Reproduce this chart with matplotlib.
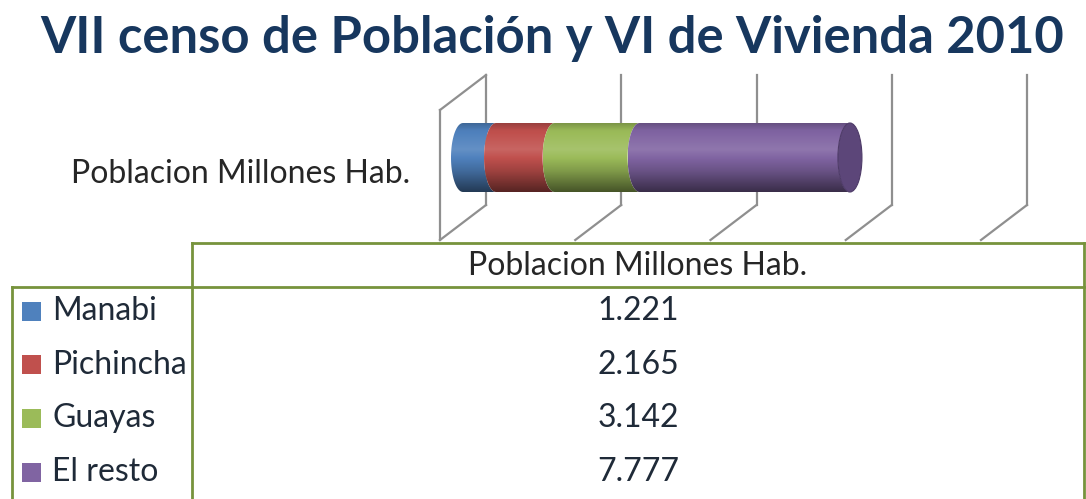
import numpy as np
import matplotlib
matplotlib.use("Agg")
import matplotlib.pyplot as plt
from matplotlib.patches import Polygon, Ellipse

titulo = "VII censo de Población y VI de Vivienda 2010"
serie = "Poblacion Millones Hab."
regiones = ["Manabi", "Pichincha", "Guayas", "El resto"]
poblacion = [1.221, 2.165, 3.142, 7.777]
etiquetas = ["1.221", "2.165", "3.142", "7.777"]
colores = ["#4F81BD", "#C0504D", "#9BBB59", "#8064A2"]
ticks = [0, 5, 10, 15, 20]

plt.rcParams['font.family'] = ['Lato', 'DejaVu Sans']

W, H = 1086, 499
fig = plt.figure(figsize=(W / 100, H / 100), dpi=100)

# ejes en pixeles para textos y tabla
ax = fig.add_axes([0, 0, 1, 1])
ax.set_xlim(0, W)
ax.set_ylim(H, 0)
ax.axis("off")

# ejes del grafico: x en millones, y en pixeles
ppu = 27.05          # px por millon
x0 = 463             # posicion del cero (profundidad media)
axb = fig.add_axes([0, 0, 1, 1])
axb.set_xlim(-x0 / ppu, (W - x0) / ppu)
axb.set_ylim(H, 0)
axb.axis("off")

dx = 23 / ppu        # desplazamiento de profundidad
gris = "#8f8f8f"
for v in ticks:
    axb.plot([v + dx, v + dx], [75, 205], color=gris, lw=1.6, zorder=1)
    axb.plot([v + dx, v - dx], [205, 240], color=gris, lw=1.6, zorder=1)
axb.plot([-dx, -dx], [110, 240], color=gris, lw=1.6, zorder=1)
axb.plot([-dx, dx], [110, 75], color=gris, lw=1.6, zorder=1)

# cilindro apilado
yc, hh = 157.5, 34.5
hw = 12 / ppu


def degradado(base, n=120):
    rgb = np.array(matplotlib.colors.to_rgb(base))
    t = np.linspace(0, 1, n)
    f = np.interp(t, [0, 0.1, 0.38, 0.7, 1], [0.8, 0.98, 1.12, 0.82, 0.45])
    out = np.zeros((n, 1, 3))
    for i, fi in enumerate(f):
        if fi < 1:
            out[i, 0] = rgb * fi
        else:
            out[i, 0] = rgb + (1 - rgb) * (fi - 1)
    return np.clip(out, 0, 1)


def media_elipse(xc, desde, hasta, n=40):
    t = np.linspace(desde, hasta, n)
    return np.column_stack([xc - hw * np.cos(t), yc + hh * np.sin(t)])


acum = np.concatenate([[0], np.cumsum(poblacion)])
for i, c in enumerate(colores):
    l, r = acum[i], acum[i + 1]
    pts = np.vstack([media_elipse(l, -np.pi / 2, np.pi / 2),
                     media_elipse(r, np.pi / 2, -np.pi / 2)])
    poly = Polygon(pts, closed=True, facecolor="none", edgecolor="none")
    axb.add_patch(poly)
    im = axb.imshow(degradado(c), extent=(l - hw, r + hw, yc + hh, yc - hh),
                    origin="upper", aspect="auto", interpolation="bilinear", zorder=3)
    im.set_clip_path(poly)

tapa = Ellipse((acum[-1], yc), 2 * hw, 2 * hh, facecolor="#5C4679",
               edgecolor="#4E3B68", lw=0.8, zorder=4)
axb.add_patch(tapa)

# titulo
ax.text(552, 38, titulo, ha="center", va="center", fontsize=36.5,
        fontweight="bold", color="#17375E")

ax.text(410, 174, serie, ha="right", va="center", fontsize=23, color="#262626")

# tabla de datos
verde = "#77933C"
ax.plot([192, 1084], [243, 243], color=verde, lw=2)
ax.plot([192, 192], [243, 499], color=verde, lw=2)
ax.plot([1084, 1084], [243, 499], color=verde, lw=2)
ax.plot([12, 1084], [287, 287], color=verde, lw=2)
ax.plot([12, 12], [287, 499], color=verde, lw=2)

ax.text(638, 266, serie, ha="center", va="center", fontsize=23, color="#262626")

fila0, paso = 311, 53.7
for i, (nom, val, c) in enumerate(zip(regiones, etiquetas, colores)):
    y = fila0 + i * paso
    ax.add_patch(plt.Rectangle((22, y - 9.5), 19, 19, facecolor=c, edgecolor="none"))
    ax.text(52, y, nom, ha="left", va="center", fontsize=23, color="#1F2A38")
    ax.text(638, y, val, ha="center", va="center", fontsize=23, color="#1F2A38")

fig.savefig("out.png", dpi=100)
